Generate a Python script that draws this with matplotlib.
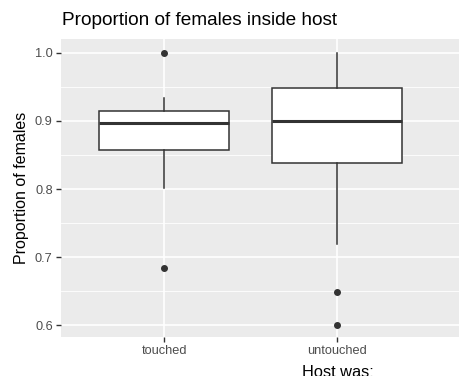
import matplotlib.pyplot as plt
import numpy as np

# values
categories = ["touched", "untouched"]
q1 = [0.858, 0.839]
medians = [0.897, 0.900]
q3 = [0.914, 0.948]
whisker_low = [0.802, 0.720]
whisker_high = [0.933, 1.000]
outliers = [[1.000, 0.684], [0.649, 0.601]]

plt.rcParams['font.family'] = ['Liberation Sans', 'DejaVu Sans']

fig = plt.figure(figsize=(4.59, 3.76), dpi=100)
ax = fig.add_axes([61 / 459, 39 / 376, 398 / 459, 298.5 / 376])
ax.set_facecolor("#EBEBEB")

stats = []
for i, name in enumerate(categories):
    stats.append(dict(label=name, q1=q1[i], med=medians[i], q3=q3[i],
                      whislo=whisker_low[i], whishi=whisker_high[i],
                      fliers=outliers[i]))

pos = np.arange(1, len(categories) + 1)
ax.bxp(stats, positions=pos, widths=0.75, patch_artist=True, showcaps=False,
       boxprops=dict(facecolor="white", edgecolor="#333333", linewidth=1.1),
       medianprops=dict(color="#333333", linewidth=2.2),
       whiskerprops=dict(color="#333333", linewidth=1.1),
       flierprops=dict(marker="o", markersize=4, markerfacecolor="#333333",
                       markeredgecolor="#333333"),
       zorder=3)

ax.set_xlim(0.404, 2.705)
ax.set_ylim(0.583, 1.021)
ax.set_yticks([0.6, 0.7, 0.8, 0.9, 1.0])
ax.set_yticklabels(["0.6", "0.7", "0.8", "0.9", "1.0"])
ax.set_yticks([0.65, 0.75, 0.85, 0.95], minor=True)
ax.set_xticks(pos)
ax.set_xticklabels(categories)

ax.grid(True, which="major", color="white", linewidth=1.2, zorder=0)
ax.grid(True, which="minor", axis="y", color="white", linewidth=0.6, zorder=0)
ax.set_axisbelow(True)
for s in ax.spines.values():
    s.set_visible(False)
ax.tick_params(axis="both", which="major", color="#333333", length=3.5, width=1,
               labelsize=9.2, labelcolor="#4D4D4D", pad=2.5)
ax.tick_params(axis="y", which="minor", length=0)

ax.set_ylabel("Proportion of females", fontsize=11.5)
# right edge of the rotated label sits about 29 px from the left
ax.yaxis.set_label_coords(29 / 459, 0.5, transform=fig.transFigure)
fig.text(61.5 / 459, (376 - 25) / 376, "Proportion of females inside host",
         fontsize=13.7, ha="left", va="baseline")
fig.text(338 / 459, (376 - 377) / 376, "Host was:", fontsize=11.8,
         ha="center", va="baseline")

fig.savefig("out.png", dpi=100)
